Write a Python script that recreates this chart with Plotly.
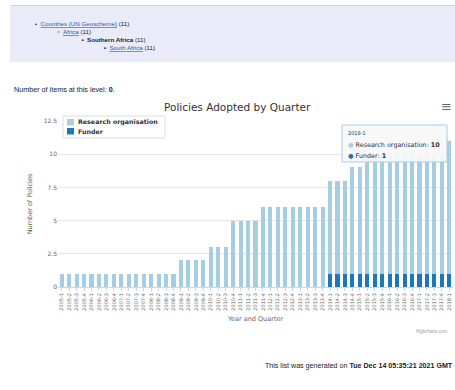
import plotly.graph_objects as go

# quarters 2005-1 .. 2018-1
quarters = [f"{y}-{q}" for y in range(2005, 2018) for q in range(1, 5)] + ["2018-1"]

research = [1]*16 + [2]*4 + [3]*3 + [5]*4 + [6]*9 + [7]*3 + [8]*2 + [9]*11 + [10]
funder = [0]*36 + [1]*17

W, H = 455, 390
L, R, T, B = 58, 2, 121, 103
PW, PH = W - L - R, H - T - B

def px(x):
    return (x - L) / PW

def py(y):
    return (H - B - y) / PH

light = "#a6cee3"
dark = "#1f78b4"

fig = go.Figure()
fig.add_trace(go.Bar(x=quarters, y=funder, name="Funder", marker=dict(color=dark, line=dict(width=0))))
fig.add_trace(go.Bar(x=quarters, y=research, name="Research organisation", marker=dict(color=light, line=dict(width=0))))

fig.update_layout(
    width=W, height=H,
    margin=dict(l=L, r=R, t=T, b=B),
    barmode="stack", bargap=0.45,
    paper_bgcolor="white", plot_bgcolor="white",
    font=dict(family="DejaVu Sans", color="#333"),
    showlegend=False,
)
fig.update_yaxes(range=[0, 12.5], dtick=2.5, gridcolor="#e6e6e6", zeroline=False,
                 tickfont=dict(size=6, color="#666"),
                 title=dict(text="Number of Policies", font=dict(size=6.5, color="#666"), standoff=10))
fig.update_xaxes(type="category", tickmode="array", tickvals=quarters, ticktext=quarters,
                 tickangle=-90, tickfont=dict(size=5, color="#666"),
                 showline=True, linecolor="#ccd6eb", ticks="outside", tickcolor="#ccd6eb", ticklen=3,
                 title=dict(text="Year and Quarter", font=dict(size=6.5, color="#666"), standoff=6))

def box(x0, y0, x1, y1, **kw):
    return dict(type="rect", xref="paper", yref="paper", x0=px(x0), x1=px(x1), y0=py(y1), y1=py(y0), **kw)

shapes = [
    box(10, 6, 470, 62, fillcolor="#e9ebf8", line=dict(width=0), layer="below"),
    dict(type="line", xref="paper", yref="paper", x0=px(10), x1=px(470), y0=py(5.5), y1=py(5.5),
         line=dict(color="#cfd2e0", width=1)),
    # legend
    box(63, 116, 165, 138, fillcolor="white", line=dict(color="#dddddd", width=1)),
    box(67, 119, 74, 125.5, fillcolor=light, line=dict(width=0)),
    box(67, 128, 74, 134.5, fillcolor=dark, line=dict(width=0)),
    # tooltip
    box(342, 125, 447, 162, fillcolor="rgba(247,247,247,0.92)", line=dict(color=light, width=1)),
]
fig.update_layout(shapes=shapes)

link = "#2a5db0"
anns = []

def note(x, y, text, size=7.5, color="#222", xanchor="left", family="Liberation Sans", **kw):
    anns.append(dict(xref="paper", yref="paper", x=px(x), y=py(y), text=text, showarrow=False,
                     xanchor=xanchor, yanchor="middle", font=dict(size=size, color=color, family=family), **kw))

nb = "\u00a0"
crumbs = [
    f"•{nb*2}<span style='color:{link}'><u>Countries (UN Geoscheme)</u></span> (11)",
    f"{nb*13}◦{nb*2}<span style='color:{link}'><u>Africa</u></span> (11)",
    f"{nb*27}▪{nb*2}<b>Southern Africa</b> (11)",
    f"{nb*40}▪{nb*2}<span style='color:{link}'><u>South Africa</u></span> (11)",
]
note(33, 35.5, "<br>".join(crumbs), size=6.2, align="left")
note(12, 89, "Number of items at this level: <b>0</b>.", size=7.2)
note(237, 107, "Policies Adopted by Quarter", size=10.5, color="#333", xanchor="center", family="DejaVu Sans")
note(446, 106, "≡", size=13, color="#666", xanchor="center", family="DejaVu Sans")
note(450, 331, "Highcharts.com", size=4.5, color="#999", xanchor="right")
note(263, 366, "This list was generated on <b>Tue Dec 14 05:35:21 2021 GMT</b>", size=7.1)

# legend labels
note(76, 122.3, "<b>Research organisation</b>", size=6.3, color="#333", family="DejaVu Sans")
note(76, 131.3, "<b>Funder</b>", size=6.3, color="#333", family="DejaVu Sans")

# tooltip text
note(346, 132.5, quarters[-1], size=5, color="#333", family="DejaVu Sans")
note(346, 145, f"<span style='color:{light}'>●</span> Research organisation: <b>{research[-1]}</b>",
     size=6.4, color="#333", family="DejaVu Sans")
note(346, 156, f"<span style='color:{dark}'>●</span> Funder: <b>{funder[-1]}</b>",
     size=6.4, color="#333", family="DejaVu Sans")

fig.update_layout(annotations=anns)

# drop the default 8px body margin so the figure sits flush in the window
fig.write_html("out.html", config={"displayModeBar": False},
               post_script="document.body.style.margin='0';document.body.style.overflow='hidden';")
